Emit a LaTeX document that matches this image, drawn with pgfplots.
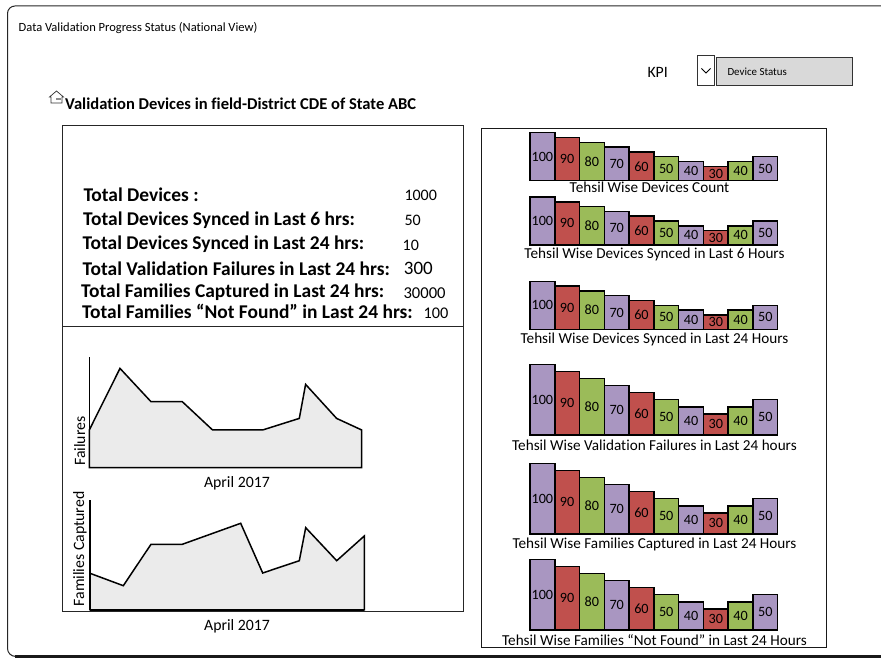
\documentclass[border=0pt]{standalone}
\usepackage{fontspec}
\setmainfont[Ligatures=NoCommon]{Carlito}
\usepackage{pgfplots}
\usepackage{pgfplotstable}
\pgfplotsset{compat=1.18}

\definecolor{barpurple}{HTML}{A996C1}
\definecolor{barred}{HTML}{C0504D}
\definecolor{bargreen}{HTML}{9BBB59}
\definecolor{areagray}{HTML}{EBEBEB}
\definecolor{boxgray}{HTML}{D9D9D9}

% Tehsil values, split by bar colour
\pgfplotstableread{
x v
0 100
3 70
6 40
9 50
}\purplebars
\pgfplotstableread{
x v
1 90
4 60
7 30
}\redbars
\pgfplotstableread{
x v
2 80
5 50
8 40
}\greenbars

\newcommand{\fs}[1]{\fontsize{#1}{#1}\selectfont}
% text at a position measured from the top left corner: x, y, size, content
\newcommand{\T}[4]{\node[anchor=west,inner sep=0pt,font=\fs{#3}] at (#1,658-#2) {#4};}
\newcommand{\TB}[4]{\node[anchor=west,inner sep=0pt,font=\fs{#3}\bfseries] at (#1,658-#2) {#4};}

% One tehsil bar chart: [caption centre x], baseline y, bar height at 100, caption y, caption
\newcommand{\tehsilchart}[5][654.5]{%
  \pgfmathsetmacro{\halfunit}{#3/200}
  \pgfmathsetmacro{\basey}{658-#2}
  \begin{axis}[
    at={(530pt,\basey pt)},anchor=south west,
    scale only axis,width=247.7pt,height=#3pt,
    axis lines=none,clip=false,
    xmin=-0.5,xmax=9.5,ymin=0,ymax=100,
    ybar,bar shift=0pt,bar width=24.77pt,
    point meta=y,
    visualization depends on={y \as \rawy},
    nodes near coords,
    /pgf/number format/assume math mode=true,
    nodes near coords style={anchor=center,inner sep=0pt,font=\fs{14.2},
      yshift={-\halfunit pt*\rawy}},
  ]
    \addplot[draw=black,line width=1.5pt,fill=barpurple] table[x=x,y=v] {\purplebars};
    \addplot[draw=black,line width=1.5pt,fill=barred] table[x=x,y=v] {\redbars};
    \addplot[draw=black,line width=1.5pt,fill=bargreen] table[x=x,y=v] {\greenbars};
  \end{axis}
  \node[inner sep=0pt,font=\fs{15.2}] at (#1,658-#4) {#5};
}

\pgfplotsset{trend/.style={
  scale only axis,
  axis lines=left,axis line style={-,line width=1.5pt},
  xtick=\empty,ytick=\empty,clip=false,
  xmin=0,ymin=0,
  xlabel style={font=\fs{15.8},inner sep=0pt,anchor=center},
  ylabel style={font=\fs{15.8},inner sep=0pt,anchor=center},
}}

\begin{document}
\begin{tikzpicture}[x=1pt,y=1pt]
\path[use as bounding box] (0,0) rectangle (881,658);

% Window frame
\draw[line width=1pt,black!85] (881,652) -- (15,652) arc[start angle=90,end angle=180,radius=7.5]
  -- (7.5,9.6) arc[start angle=180,end angle=270,radius=8];
\draw[line width=2.6pt,black!90] (15,1.6) -- (881,1.6);

% Header
\T{18.5}{28}{12.5}{Data Validation Progress Status (National View)}
\T{647.3}{72}{15.8}{KPI}
\draw[line width=0.9pt,black!80] (697.7,658-55) rectangle (714.3,658-85);
\draw[line width=0.9pt] (701.5,658-68.5) -- (706,658-73) -- (710.5,658-68.5);
\draw[line width=0.9pt,black!80,fill=boxgray] (716.3,658-57.3) rectangle (852.3,658-85);
\T{727.3}{72}{10.9}{Device Status}

% Location heading with house symbol
\draw[line width=0.7pt,black!80,fill=white] (51,658-97) -- (51,658-103) -- (62,658-103) -- (62,658-97) -- (63.5,658-97)
  -- (56.5,658-91) -- (49.5,658-97) -- cycle;
\fill[black!45] (55.5,658-100.5) rectangle (60.5,658-98);
\TB{65}{104}{16.55}{Validation Devices in field-District CDE of State ABC}

% Left and right panels
\draw[line width=0.8pt,black!85] (62.5,658-125) rectangle (463.5,658-611);
\draw[line width=0.8pt,black!85] (62.5,658-326) -- (463.5,658-326);
\draw[line width=0.9pt,black!90] (481.5,658-128) rectangle (826.8,658-647.3);
\draw[white,line width=1pt,dash pattern=on 3pt off 4pt] (565,658-128) -- (622,658-128);

% Summary figures
\TB{83.3}{195}{19.45}{Total Devices :}
\T{404.3}{195}{16}{1000}
\TB{83}{220.5}{19.45}{Total Devices Synced in Last 6 hrs:}
\T{404.3}{220}{16}{50}
\TB{82.5}{244.5}{19.45}{Total Devices Synced in Last 24 hrs:}
\T{402.5}{245}{16}{10}
\TB{82.5}{268.5}{19.45}{Total Validation Failures in Last 24 hrs:}
\T{403.7}{268}{19}{300}
\TB{81}{292.5}{19.45}{Total Families Captured in Last 24 hrs:}
\T{403.3}{293}{16.6}{30000}
\TB{82}{311}{19.45}{Total Families “Not Found” in Last 24 hrs:}
\T{423.3}{313}{16.3}{100}

% Failures trend
\begin{axis}[trend,
  at={(89.3pt,190.3pt)},anchor=south west,
  width=272.4pt,height=111pt,xmax=272.4,ymax=111,
  xlabel={April 2017},
  xlabel style={at={(axis description cs:0.542,0)},yshift=-16pt},
  ylabel={Failures},
  ylabel style={at={(axis description cs:0,0.24)},yshift=9.5pt},
]
  \addplot[draw=black,line width=1.5pt,fill=areagray] coordinates {
    (0,37.7) (30.7,99.3) (61.7,66) (93,66) (123.3,37.7)
    (173.3,37.7) (210,49.3) (216.3,83.3) (247.3,49.3) (272.4,37.7)
  } \closedcycle;
\end{axis}

% Families captured trend
\begin{axis}[trend,
  at={(90pt,48pt)},anchor=south west,
  width=274.3pt,height=110pt,xmax=274.3,ymax=110,
  xlabel={April 2017},
  xlabel style={at={(axis description cs:0.536,0)},yshift=-16pt},
  ylabel={Families Captured},
  ylabel style={at={(axis description cs:0,0.555)},yshift=10pt},
]
  \addplot[draw=black,line width=1.5pt,fill=areagray] coordinates {
    (0,36.7) (33.3,24.3) (61,65.7) (92.3,65.7) (150.7,86.7)
    (172.7,37) (209.3,49.3) (215.7,82.3) (246.7,49.3) (274.3,74)
  } \closedcycle;
\end{axis}

% Tehsil bar charts
\tehsilchart[649.5]{180.7}{48}{187}{Tehsil Wise Devices Count}
\tehsilchart{245}{48}{254.6}{Tehsil Wise Devices Synced in Last 6 Hours}
\tehsilchart{329.3}{48}{339.3}{Tehsil Wise Devices Synced in Last 24 Hours}
\tehsilchart{435}{70.5}{445.3}{Tehsil Wise Validation Failures in Last 24 hours}
\tehsilchart{534}{70.5}{544.6}{Tehsil Wise Families Captured in Last 24 Hours}
\tehsilchart{630}{70.5}{640.3}{Tehsil Wise Families “Not Found” in Last 24 Hours}
\end{tikzpicture}
\end{document}
